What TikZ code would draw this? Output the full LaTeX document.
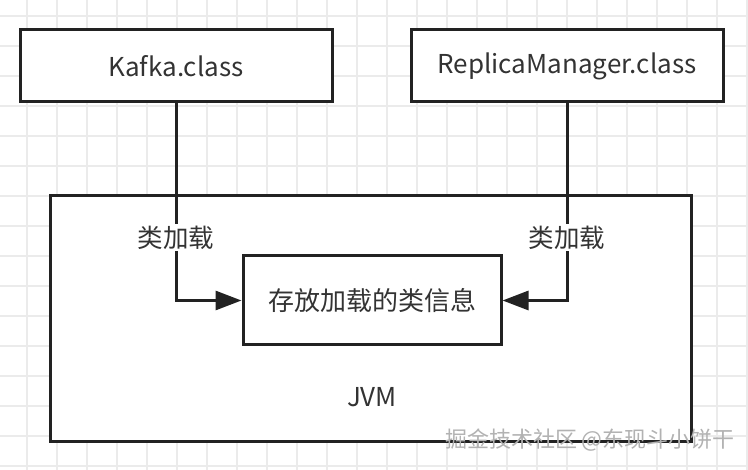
\documentclass[tikz,border=0pt]{standalone}
\usepackage{fontspec}
\setmainfont{Noto Sans CJK SC}
\usetikzlibrary{arrows.meta}
\definecolor{txt}{HTML}{333333}
\definecolor{boxline}{HTML}{222222}
\definecolor{gridline}{HTML}{EBEBEB}
\begin{document}
\begin{tikzpicture}[x=1pt,y=-1pt,
    box/.style={draw=boxline,line width=3pt,fill=white,inner sep=0pt,
      text=txt,font=\fontsize{26}{30}\selectfont},
    link/.style={draw=boxline,line width=3pt,-{Triangle[length=26pt,width=19pt]}},
    tag/.style={fill=white,text=txt,inner sep=2pt,font=\fontsize{25.5}{30}\selectfont}]
  \useasboundingbox[fill=white] (0,0) rectangle (748,470);
  % background grid
  \foreach \gx in {-3,27,...,747} \draw[gridline,line width=1.2pt] (\gx,0) -- (\gx,470);
  \foreach \gy in {16,46,...,470} \draw[gridline,line width=1.2pt] (0,\gy) -- (748,\gy);
  \node[box,minimum width=641pt,minimum height=246pt] (jvm) at (370.5,319) {};
  \node[text=txt,font=\fontsize{26}{30}\selectfont] (jvmlabel) at (372,397) {JVM};
  \node[box,minimum width=258pt,minimum height=89pt] (info) at (372,300.5) {存放加载的类信息};
  \node[box,minimum width=312pt,minimum height=72pt] (kafka) at (176,66) {Kafka.class};
  \node[box,minimum width=312pt,minimum height=72pt] (rm) at (567,66) {ReplicaManager.class};
  \draw[link] (kafka.south) |- (info.west) node[tag,pos=0.34] (loadl) {类加载};
  \draw[link] (rm.south) |- (info.east) node[tag,pos=0.34] (loadr) {类加载};
  \node[text=gray!60,anchor=east,inner sep=0pt,font=\fontsize{22}{26}\selectfont] (mark) at (735,440)
    {掘金技术社区 @东现斗小饼干};
\end{tikzpicture}
\end{document}
